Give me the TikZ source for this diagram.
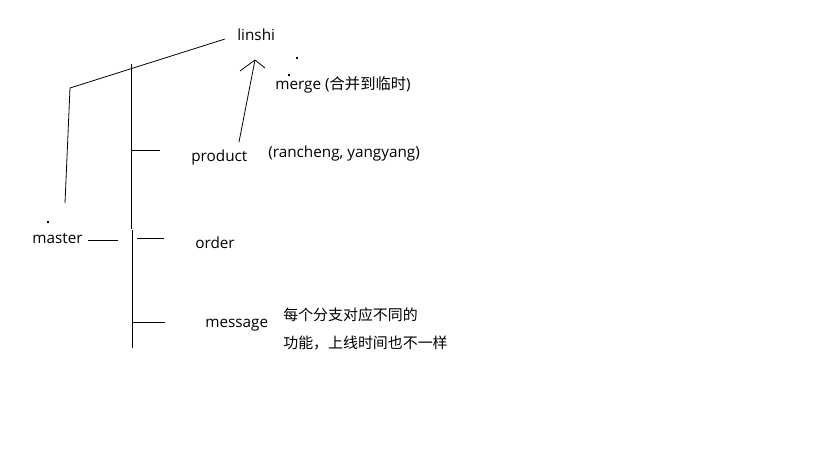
\documentclass[tikz,border=0pt]{standalone}
\usepackage{fontspec}
\setmainfont{Open Sans}
\newfontfamily\cjk{Noto Sans CJK SC}
\usetikzlibrary{positioning}

\begin{document}
\begin{tikzpicture}[x=0.02cm, y=-0.02cm,
    stroke/.style={line width=0.45pt, black},
    lbl/.style={anchor=base west, inner sep=0pt, font=\fontsize{8.7}{10}\selectfont},
    note/.style={anchor=base west, inner sep=0pt, font=\cjk\fontsize{8.5}{10}\selectfont},
    speck/.style={fill=black, inner sep=0pt, minimum size=0.7pt}]
\useasboundingbox (0,0) rectangle (819,460);

% Branch names
\node[lbl] (linshi) at (237,40) {linshi};
\node[lbl] (master) at (32,243) {master};
\node[lbl] (product) at (191,161) {product};
\node[lbl] (order) at (195,248) {order};
\node[lbl] (message) at (205,327) {message};

% Remarks
\node[lbl] (merge) at (275,89) {merge ({\cjk 合并到临时})};
\node[lbl] (people) at (268,157) {(rancheng, yangyang)};
\node[note] (note1) at (283,320) {每个分支对应不同的};
\node[note] (note2) at (283,348) {功能，上线时间也不一样};

% Specks
\node[speck] (speck1) at (48,222) {};
\node[speck] (speck2) at (297,58) {};
\node[speck] (speck3) at (289,75) {};

% Line points
\coordinate (mbot) at (65,203);
\coordinate (mtop) at (70,88);
\coordinate (lend) at (225,39);
\coordinate (ml1) at (88,240);
\coordinate (ml2) at (118,240);
\coordinate (ttop) at (131,64);
\coordinate (tmid1) at (131,229);
\coordinate (tmid2) at (132,230);
\coordinate (tbot) at (132,348);
\coordinate (pb1) at (132,150);
\coordinate (pb2) at (160,150);
\coordinate (ob1) at (137,238);
\coordinate (ob2) at (164,238);
\coordinate (sb1) at (132,322);
\coordinate (sb2) at (165,322);
\coordinate (atail) at (239,142);
\coordinate (ahead) at (255,60);
\coordinate (larm) at (240,71);
\coordinate (rarm) at (265,68);

% Lines
\draw[stroke] (mbot) -- (mtop) -- (lend);
\draw[stroke] (ml1) -- (ml2);
\draw[stroke] (ttop) -- (tmid1);
\draw[stroke] (tmid2) -- (tbot);
\draw[stroke] (pb1) -- (pb2);
\draw[stroke] (ob1) -- (ob2);
\draw[stroke] (sb1) -- (sb2);

% Merge arrow
\draw[stroke] (atail) -- (ahead);
\draw[stroke] (larm) -- (ahead) -- (rarm);

\end{tikzpicture}
\end{document}
